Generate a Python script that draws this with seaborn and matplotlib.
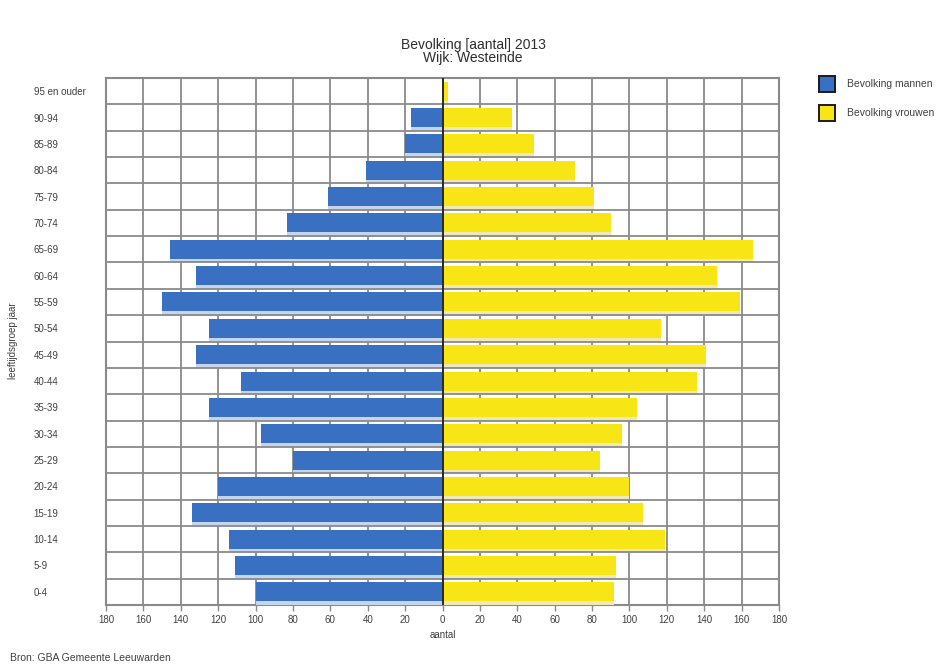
import matplotlib
matplotlib.use("Agg")
import matplotlib.pyplot as plt
import matplotlib.patheffects as pe
from matplotlib.patches import Rectangle
import seaborn as sns
import pandas as pd
import numpy as np

# Age groups, oldest at the top
age_groups = ["95 en ouder", "90-94", "85-89", "80-84", "75-79", "70-74",
              "65-69", "60-64", "55-59", "50-54", "45-49", "40-44",
              "35-39", "30-34", "25-29", "20-24", "15-19", "10-14",
              "5-9", "0-4"]
men = [0, 17, 20, 41, 61, 83, 146, 132, 150, 125, 132, 108, 125, 97,
       80, 120, 134, 114, 111, 100]
women = [3, 37, 49, 71, 81, 90, 166, 147, 159, 117, 141, 136, 104, 96,
         84, 100, 107, 119, 93, 92]
x_ticks = list(range(-180, 181, 20))

df = pd.DataFrame({"leeftijd": age_groups, "mannen": men, "vrouwen": women})
df["mannen_neg"] = -df["mannen"]

BLUE = "#3a70c2"
YELLOW = "#f7e515"
GRID = "#8a8a8a"
TXT = "#404040"

sns.set_theme(style="white")
plt.rcParams["font.family"] = ["Liberation Sans", "DejaVu Sans"]

fig = plt.figure(figsize=(9.46, 6.69), dpi=100)
ax = fig.add_axes([106 / 946, 1 - 605 / 669, (779 - 106) / 946, (605 - 78) / 669])

sns.barplot(data=df, y="leeftijd", x="mannen_neg", order=age_groups,
            color=BLUE, orient="h", width=0.72, saturation=1, ax=ax, zorder=3)
sns.barplot(data=df, y="leeftijd", x="vrouwen", order=age_groups,
            color=YELLOW, orient="h", width=0.72, saturation=1, ax=ax, zorder=3)

for p in ax.patches:
    fc = p.get_facecolor()
    shadow = "#c6d5ee" if fc[2] > 0.5 else "#efe9b8"
    p.set_edgecolor("none")
    p.set_path_effects([pe.SimplePatchShadow(offset=(0, -3), shadow_rgbFace=shadow, alpha=1),
                        pe.Normal()])

n = len(age_groups)
ax.set_xlim(-180, 180)
ax.set_ylim(n - 0.5, -0.5)

# grid: vertical at every 20, horizontal between age groups
ax.set_xticks(x_ticks)
ax.set_xticklabels([str(abs(v)) for v in x_ticks], fontsize=7, color=TXT)
for v in x_ticks:
    ax.axvline(v, color=GRID, lw=1.3, zorder=1)
for b in np.arange(0.5, n - 0.5, 1):
    ax.axhline(b, color=GRID, lw=1.3, zorder=4)
ax.axvline(0, color="#2a2a2a", lw=1.4, zorder=5)

ax.tick_params(axis="x", length=4, width=1, color=GRID, pad=3, bottom=True)
ax.tick_params(axis="y", length=0, pad=52)
for lbl in ax.get_yticklabels():
    lbl.set_horizontalalignment("left")
    lbl.set_fontsize(7)
    lbl.set_color(TXT)

for s in ax.spines.values():
    s.set_color(GRID)
    s.set_linewidth(1.5)

ax.set_xlabel("aantal", fontsize=7, color=TXT, labelpad=4)
ax.set_ylabel("")
fig.text(8 / 946, 1 - 341 / 669, "leeftijdsgroep jaar", rotation=90,
         fontsize=7, color=TXT, ha="left", va="center")

fig.text(0.5, 1 - 45 / 669, "Bevolking [aantal] 2013", ha="center", va="center",
         fontsize=10, color="#2e2e2e")
fig.text(0.5, 1 - 58 / 669, "Wijk: Westeinde", ha="center", va="center",
         fontsize=10, color="#2e2e2e")

# legend
for i, (lab, col) in enumerate([("Bevolking mannen", BLUE), ("Bevolking vrouwen", YELLOW)]):
    yc = 84 + i * 29
    fig.patches.append(Rectangle((819 / 946, 1 - (yc + 8) / 669), 16 / 946, 16 / 669,
                                 transform=fig.transFigure, facecolor=col,
                                 edgecolor="#1a1a1a", lw=1.4))
    fig.text(847 / 946, 1 - yc / 669, lab, fontsize=7.5, color=TXT, va="center", ha="left")

fig.text(10 / 946, 1 - 658 / 669, "Bron: GBA Gemeente Leeuwarden", fontsize=7.5,
         color=TXT, ha="left", va="center")

fig.savefig("out.png", dpi=100)
